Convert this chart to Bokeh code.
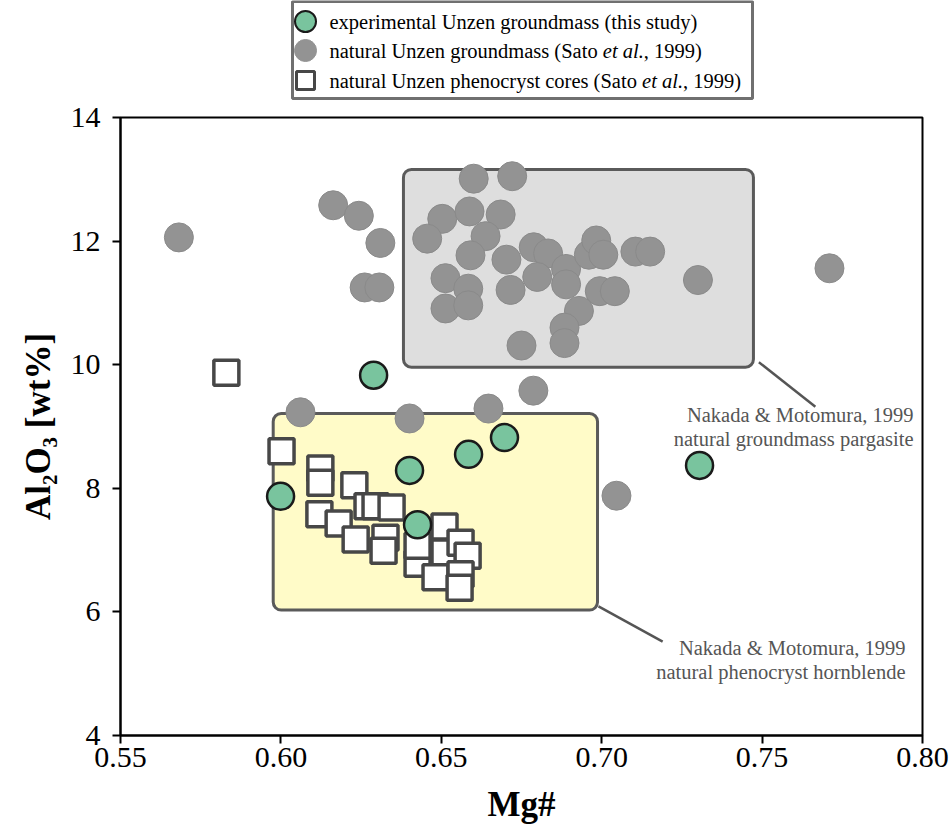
from bokeh.plotting import figure
from bokeh.layouts import column
from bokeh.models import Range1d, FixedTicker, PrintfTickFormatter, Label
from bokeh.embed import file_html
from bokeh.resources import INLINE

# ---------------- data ----------------
# natural Unzen groundmass (Sato et al., 1999)
gm_mg = [0.5682, 0.6163, 0.6243, 0.6310, 0.6261, 0.6307, 0.6601, 0.6721, 0.6503,
         0.6588, 0.6685, 0.6456, 0.6638, 0.6591, 0.6703, 0.6788, 0.6833, 0.6513,
         0.6584, 0.6513, 0.6584, 0.6716, 0.6799, 0.6889, 0.6889, 0.6960, 0.6983,
         0.7005, 0.6994, 0.7041, 0.7105, 0.7151, 0.7300, 0.7710, 0.6929, 0.6884,
         0.6884, 0.6750, 0.6787, 0.6061, 0.6401, 0.6647, 0.7046]
gm_al = [12.06, 12.58, 12.41, 11.97, 11.25, 11.25, 13.01, 13.05, 12.36,
         12.48, 12.43, 12.04, 12.08, 11.77, 11.70, 11.90, 11.80, 11.40,
         11.23, 10.91, 10.96, 11.21, 11.42, 11.55, 11.30, 11.78, 12.01,
         11.78, 11.19, 11.19, 11.83, 11.83, 11.37, 11.56, 10.87, 10.60,
         10.35, 10.31, 9.58, 9.23, 9.13, 9.29, 7.88]

# natural Unzen phenocryst cores (Sato et al., 1999)
ph_mg = [0.5830, 0.6002, 0.6123, 0.6123, 0.6229, 0.6120, 0.6180, 0.6270, 0.6295,
         0.6345, 0.6233, 0.6326, 0.6320, 0.6426, 0.6426, 0.6510, 0.6510, 0.6560,
         0.6582, 0.6482, 0.6560, 0.6557]
ph_al = [9.87, 8.60, 8.32, 8.09, 8.05, 7.58, 7.43, 7.71, 7.71,
         7.69, 7.17, 7.20, 6.99, 6.78, 7.07, 7.38, 6.96, 7.12,
         6.91, 6.56, 6.61, 6.39]

# experimental Unzen groundmass (this study)
ex_mg = [0.6289, 0.5999, 0.6401, 0.6585, 0.6697, 0.7305, 0.6426]
ex_al = [9.83, 7.87, 8.29, 8.55, 8.82, 8.37, 7.41]

# Nakada & Motomura (1999) fields
pargasite_box = dict(left=[0.6382], right=[0.7473], bottom=[9.96], top=[13.16])
hornblende_box = dict(left=[0.5976], right=[0.6987], bottom=[6.03], top=[9.21])

x_ticks = [0.55, 0.60, 0.65, 0.70, 0.75, 0.80]
y_ticks = [4, 6, 8, 10, 12, 14]

SERIF = "Liberation Serif"
GRAY_FILL = "#939393"
GREEN_FILL = "#79c49e"

W = 952
FL, FR = 120, 922          # frame left / right on the page

# ---------------- legend strip (coordinates = page pixels) ----------------
LH = 100
leg = figure(width=W, height=LH, x_range=Range1d(FL, FR), y_range=Range1d(LH, 0),
             x_axis_type=None, y_axis_type=None, output_backend="svg",
             toolbar_location=None, min_border_left=FL, min_border_right=W - FR,
             min_border_top=0, min_border_bottom=0, outline_line_color=None)
leg.grid.visible = False
leg.quad(left=[292], right=[752], top=[1], bottom=[98], fill_color=None,
         line_color="#707070", line_width=3)
rows = [21, 50, 80]
leg.scatter([305], [rows[0]], marker="circle", size=21, fill_color=GREEN_FILL,
            line_color="#1a1a1a", line_width=2)
leg.scatter([305], [rows[1]], marker="circle", size=22, fill_color=GRAY_FILL,
            line_color=GRAY_FILL, line_width=1)
leg.scatter([305], [rows[2]], marker="square", size=18, fill_color="white",
            line_color="#474747", line_width=3)

FSPX = 20.5
FS = f"{FSPX}px"
def lab(x, y, t, style="normal"):
    leg.add_layout(Label(x=x, y=y, text=t, text_font=SERIF, text_font_size=FS,
                         text_font_style=style, text_baseline="middle",
                         text_align="left", text_color="black"))

TX = 329
lab(TX, rows[0], "experimental Unzen groundmass (this study)")
lab(TX, rows[1], "natural Unzen groundmass (Sato ")
lab(TX + 13.331 * FSPX, rows[1], "et al.", "italic")
lab(TX + 15.331 * FSPX, rows[1], ", 1999)")
lab(TX, rows[2], "natural Unzen phenocryst cores (Sato ")
lab(TX + 15.246 * FSPX, rows[2], "et al.", "italic")
lab(TX + 17.246 * FSPX, rows[2], ", 1999)")

# ---------------- main plot ----------------
p = figure(width=W, height=731, x_range=Range1d(0.55, 0.80), y_range=Range1d(4, 14),
           output_backend="svg", toolbar_location=None,
           min_border_left=FL, min_border_right=W - FR, min_border_top=17,
           min_border_bottom=96, background_fill_color="white",
           border_fill_color="white")
p.grid.visible = False
p.outline_line_color = "black"
p.outline_line_width = 2

p.quad(**pargasite_box, fill_color="#dedede", line_color="#5a5a5a", line_width=3,
       border_radius=8)
p.quad(**hornblende_box, fill_color="#fffbc8", line_color="#5a5a5a", line_width=3,
       border_radius=8)

# leader lines
p.line([0.7490, 0.7666], [10.04, 9.32], line_color="#555555", line_width=2.5)
p.line([0.6990, 0.7190], [6.09, 5.52], line_color="#555555", line_width=2.5)

p.scatter(gm_mg, gm_al, marker="circle", size=29, fill_color=GRAY_FILL,
          line_color="#8a8a8a", line_width=1)
p.scatter(ph_mg, ph_al, marker="square", size=25, fill_color="white",
          line_color="#474747", line_width=3.5)
p.scatter(ex_mg, ex_al, marker="circle", size=27, fill_color=GREEN_FILL,
          line_color="#1a1a1a", line_width=2.5)

for (x, y, t) in [(0.7972, 9.18, "Nakada & Motomura, 1999"),
                  (0.7972, 8.79, "natural groundmass pargasite"),
                  (0.7947, 5.41, "Nakada & Motomura, 1999"),
                  (0.7947, 5.02, "natural phenocryst hornblende")]:
    p.add_layout(Label(x=x, y=y, text=t, text_font=SERIF, text_font_size="20.5px",
                       text_color="#555555", text_align="right",
                       text_baseline="middle"))

for ax in (p.xaxis[0], p.yaxis[0]):
    ax.axis_line_width = 2
    ax.axis_line_color = "black"
    ax.major_tick_line_width = 2
    ax.major_tick_line_color = "black"
    ax.major_tick_out = 8
    ax.major_tick_in = 0
    ax.minor_tick_line_color = None
    ax.major_label_text_font = SERIF
    ax.major_label_text_font_size = "30px"
    ax.major_label_text_color = "black"
    ax.axis_label_text_font = SERIF
    ax.axis_label_text_font_size = "35px"
    ax.axis_label_text_font_style = "bold"
    ax.axis_label_text_color = "black"

p.xaxis.ticker = FixedTicker(ticks=x_ticks)
p.xaxis.formatter = PrintfTickFormatter(format="%.2f")
p.xaxis.major_label_standoff = 4
p.xaxis.axis_label = "Mg#"
p.xaxis.axis_label_standoff = 15

p.yaxis.ticker = FixedTicker(ticks=y_ticks)
p.yaxis.formatter = PrintfTickFormatter(format="%d")
p.yaxis.major_label_standoff = 12
p.yaxis.axis_label = "Al₂O₃ [wt%]"
p.yaxis.axis_label_standoff = 10

layout = column(leg, p, spacing=0)
open("out.html", "w").write(file_html(layout, INLINE))
